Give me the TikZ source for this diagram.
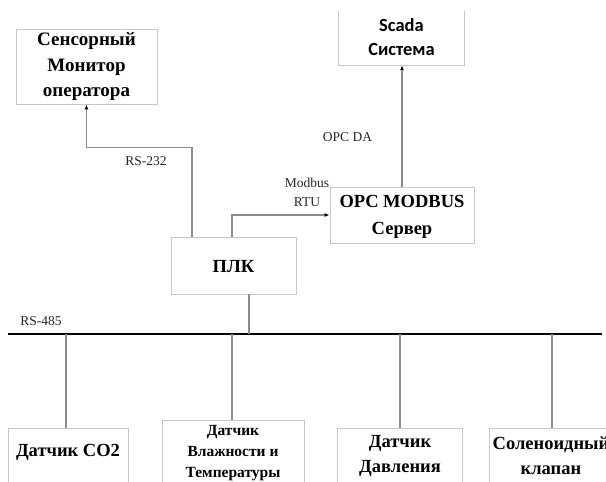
\documentclass[tikz,border=0pt]{standalone}
\usepackage{fontspec}
\setmainfont{Liberation Serif}
\newfontfamily\scadafont{Carlito}
\usetikzlibrary{arrows.meta}

\begin{document}
\begin{tikzpicture}[x=1pt,y=-1pt,
  box/.style={draw=black!22, line width=0.8pt, rectangle, inner sep=0pt},
  conn/.style={draw=black!45, line width=1.1pt},
  arr/.style={conn, -{Latex[black,length=5pt,width=4pt]}},
  bus/.style={draw=black, line width=2.6pt},
  bigtxt/.style={inner sep=0pt, align=center, font=\bfseries\fontsize{18.5}{25}\selectfont},
  midtxt/.style={inner sep=0pt, align=center, font=\bfseries\fontsize{15.5}{21}\selectfont},
  lbl/.style={inner sep=0pt, align=center, font=\fontsize{13.5}{19}\selectfont, text=black!85},
]
\useasboundingbox (0,0) rectangle (606,482);
\clip (0,0) rectangle (606,482);

% upper boxes
\node[box, minimum width=141pt, minimum height=75pt] (monitor) at (86.5,66.5) {};
\node[bigtxt, font=\bfseries\fontsize{19}{25.5}\selectfont] (monitortxt) at (86.5,66.5) {Сенсорный\\Монитор\\оператора};

\node[inner sep=0pt, minimum width=125pt, minimum height=54pt] (scada) at (401.5,38) {};
\draw[box] (scada.north west) |- (scada.south east) -- (scada.north east);
\node[inner sep=0pt, align=center, font=\scadafont\bfseries\fontsize{18.5}{24}\selectfont] (scadatxt) at (401.5,37) {Scada\\Система};

\node[box, minimum width=144pt, minimum height=56pt] (opc) at (402,215) {};
\node[bigtxt, font=\bfseries\fontsize{18.5}{27}\selectfont] (opctxt) at (402,216.5) {OPC MODBUS\\Сервер};

\node[box, minimum width=125pt, minimum height=57pt] (plk) at (233.5,265.5) {};
\node[bigtxt] (plktxt) at (233.5,267) {ПЛК};

% field devices (boxes run past the lower edge)
\node[box, minimum width=120pt, minimum height=80pt, anchor=north] (co2) at (68,428) {};
\node[bigtxt] (co2txt) at (68,452) {Датчик CO2};

\node[box, minimum width=142pt, minimum height=90pt, anchor=north] (hum) at (233,420) {};
\node[midtxt] (humtxt) at (233,453) {Датчик\\Влажности и\\Температуры};

\node[box, minimum width=125pt, minimum height=80pt, anchor=north] (press) at (399.5,428) {};
\node[bigtxt] (presstxt) at (400,455.5) {Датчик\\Давления};

\node[box, minimum width=126pt, minimum height=80pt, anchor=north] (valve) at (552,428) {};
\node[bigtxt] (valvetxt) at (551,455.5) {Соленоидный\\клапан};

% RS-485 bus
\coordinate (busL) at (8,334);
\coordinate (busR) at (602,334);
\draw[bus] (busL) -- (busR);

\draw[conn] ([xshift=15.5pt]plk.south) -- ([xshift=15.5pt]plk.south |- busL);
\draw[conn] ([xshift=-2pt]co2.north) -- ([xshift=-2pt]co2.north |- busL);
\draw[conn] ([xshift=-1pt]hum.north) -- ([xshift=-1pt]hum.north |- busL);
\draw[conn] ([xshift=0.5pt]press.north) -- ([xshift=0.5pt]press.north |- busL);
\draw[conn] (valve.north) -- (valve.north |- busL);

% links from the PLC
\draw[arr] ([xshift=-41.5pt]plk.north) -- ++(0,-89) -| (monitor.south);
\draw[arr] ([xshift=-1.5pt]plk.north) |- (opc.west);
\draw[arr] (opc.north) -- (opc.north |- scada.south);

% link labels
\node[lbl] (rs232) at (146,161) {RS-232};
\node[lbl] (opcda) at (347.5,137) {OPC DA};
\node[lbl] (modbus) at (307,192.5) {Modbus\\RTU};
\node[lbl] (rs485) at (41,321) {RS-485};
\end{tikzpicture}
\end{document}
